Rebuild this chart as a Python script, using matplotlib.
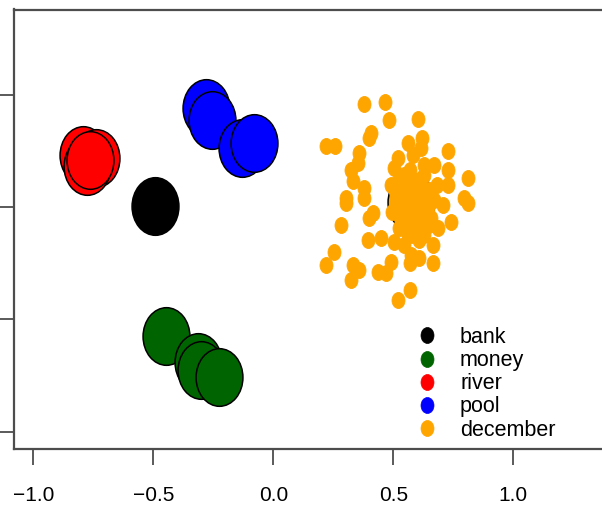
import matplotlib
matplotlib.use('Agg')
import matplotlib.pyplot as plt
from matplotlib.path import Path
from matplotlib.markers import MarkerStyle
from matplotlib.transforms import Affine2D
from matplotlib.lines import Line2D

plt.rcParams['font.family'] = ['Liberation Sans', 'DejaVu Sans']

# ---------------- data ----------------
words = ['bank', 'money', 'river', 'pool', 'december']
colors = ['black', '#006400', '#FF0000', '#0000FF', '#FFA500']

bank_x = [-0.494]
bank_y = [0.004]
money_x = [-0.446, -0.313, -0.300, -0.225]
money_y = [-0.574, -0.690, -0.725, -0.757]
river_x = [-0.792, -0.738, -0.775, -0.763]
river_y = [0.231, 0.218, 0.182, 0.209]
pool_x = [-0.279, -0.254, -0.129, -0.083]
pool_y = [0.441, 0.387, 0.263, 0.285]
december_x = [0.575]
december_y = [0.022]

dec_cloud_x = [0.376, 0.463, 0.483, 0.601, 0.407, 0.400, 0.220, 0.257, 0.560, 0.618,
               0.615, 0.726, 0.358, 0.351, 0.324, 0.518, 0.580, 0.671, 0.726, 0.810,
               0.726, 0.330, 0.379, 0.504, 0.629, 0.490, 0.546, 0.303, 0.796,
               0.303, 0.379, 0.414, 0.400, 0.282, 0.393, 0.449, 0.810, 0.705, 0.740,
               0.685, 0.664, 0.504, 0.574, 0.629, 0.254, 0.220, 0.330, 0.358, 0.324,
               0.435, 0.490, 0.470, 0.574, 0.567, 0.608, 0.664, 0.567, 0.518,
               0.525, 0.567, 0.608, 0.650, 0.546, 0.588, 0.629, 0.517, 0.575, 0.642,
               0.533, 0.600, 0.658, 0.558, 0.617, 0.508, 0.671, 0.567, 0.629, 0.588,
               0.525, 0.650, 0.608, 0.546, 0.492, 0.683, 0.575, 0.600, 0.538, 0.629]
dec_cloud_y = [0.458, 0.467, 0.387, 0.393, 0.329, 0.307, 0.270, 0.270, 0.285, 0.307,
               0.263, 0.248, 0.240, 0.196, 0.166, 0.218, 0.233, 0.188, 0.166, 0.129,
               0.099, 0.114, 0.085, 0.174, 0.188, 0.099, 0.144, 0.040, 0.040,
               0.016, 0.039, -0.028, -0.050, -0.080, -0.147, -0.139, 0.016, 0.009, -0.065,
               -0.095, -0.169, -0.154, -0.125, -0.125, -0.199, -0.258, -0.258, -0.280, -0.325,
               -0.288, -0.243, -0.295, -0.214, -0.251, -0.228, -0.251, -0.369, -0.414,
               0.120, 0.098, 0.120, 0.076, 0.053, 0.031, 0.053, 0.009, -0.013, -0.004,
               -0.058, -0.067, -0.049, -0.111, -0.102, 0.076, 0.031, 0.165, 0.142, -0.036,
               -0.093, -0.080, -0.147, -0.169, -0.022, 0.098, 0.067, 0.009, -0.013, -0.036]

xticks = [-1.0, -0.5, 0.0, 0.5, 1.0]
yticks = [-1.0, -0.5, 0.0, 0.5]

# ---------------- figure ----------------
W, H = 602, 508
fig = plt.figure(figsize=(W / 100, H / 100), dpi=100)
left_px, top_px, bottom_px = 13.5, 9.5, 449.0
x_lo, x_hi = -1.083, 1.45
y_lo, y_hi = -1.077, 0.879
width_px = (x_hi - x_lo) * 240.0
ax = fig.add_axes([left_px / W, (H - bottom_px) / H, width_px / W, (bottom_px - top_px) / H])
ax.set_xlim(x_lo, x_hi)
ax.set_ylim(y_lo, y_hi)

# elliptical marker (reference is vertically stretched)
ell_path = Affine2D().scale(1.0, 1.23).transform_path(Path.unit_circle())
ell = MarkerStyle(ell_path)

big = 41.5
edge_w = 1.1

def big_points(xs, ys, color):
    ax.plot(xs, ys, linestyle='none', marker=ell, markersize=big,
            markerfacecolor=color, markeredgecolor='black', markeredgewidth=edge_w)

big_points(bank_x, bank_y, colors[0])
big_points(money_x, money_y, colors[1])
big_points(river_x, river_y, colors[2])
big_points(pool_x, pool_y, colors[3])
big_points(december_x, december_y, colors[4])
ax.plot(dec_cloud_x, dec_cloud_y, linestyle='none', marker=ell, markersize=11.5,
        markerfacecolor=colors[4], markeredgecolor=colors[4], markeredgewidth=0.6)

# axes styling (R-like)
frame_c = '0.3'
for s in ax.spines.values():
    s.set_color(frame_c)
    s.set_linewidth(1.6)
ax.set_xticks(xticks)
ax.set_xticklabels([f'{v:.1f}'.replace('-', '\u2212') for v in xticks])
ax.set_yticks(yticks)
ax.set_yticklabels([])
ax.tick_params(axis='both', direction='out', length=11.5, width=1.3, color=frame_c,
               labelsize=15, pad=15, labelcolor='black')

# legend
handles = [Line2D([], [], linestyle='none', marker=ell, markersize=11.5,
                  markerfacecolor=c, markeredgecolor=c, markeredgewidth=0.5)
           for c in colors]
fs = 15.5
fs_px = fs / 72 * 100
leg_left = 427 - fs_px * 0.5
ax.legend(handles, words, loc='upper left',
          bbox_to_anchor=(leg_left / W, 1 - 327.0 / H), bbox_transform=fig.transFigure,
          frameon=False, fontsize=fs, handlelength=1.0, handletextpad=(460 - 427 - fs_px * 0.5) / fs_px,
          labelspacing=0.1, borderpad=0.0, borderaxespad=0.0)

fig.savefig('out.png', dpi=100)
